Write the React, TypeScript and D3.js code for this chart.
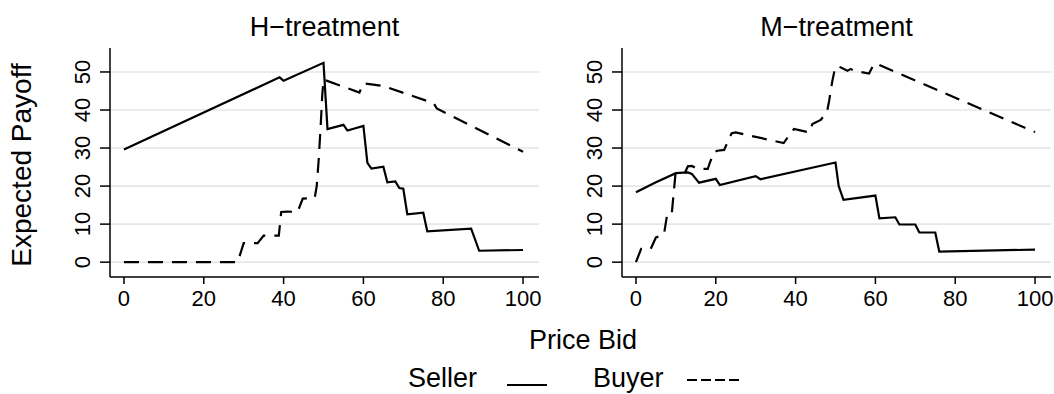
import React from "react";
import * as d3 from "d3";

// Expected payoff by price bid, H- and M-treatment
const priceTicks = [0, 20, 40, 60, 80, 100];
const payoffTicks = [0, 10, 20, 30, 40, 50];

const hSeller: [number, number][] = [
  [0, 29.6], [39, 48.6], [40, 47.7], [50, 52.4], [51, 35], [55, 36.1], [56, 34.6],
  [60, 35.8], [61, 26.1], [62, 24.6], [65, 25.1], [66, 21], [68, 21.2], [69, 19.5],
  [70, 19.3], [71, 12.6], [75, 13], [76, 8.1], [87, 8.8], [89, 3.0], [100, 3.2],
];

const hBuyer: [number, number][] = [
  [0, 0], [28.5, 0], [30, 5], [33.5, 5], [35, 7], [38.8, 7], [39.4, 13.2], [41, 13.3],
  [43.5, 13.2], [44.8, 16.7], [47.8, 16.9], [48.3, 20], [48.8, 27], [49.3, 36],
  [49.7, 44], [50, 48], [59, 44.6], [60, 47], [65, 46.3], [77.6, 41.8], [78.4, 40.4],
  [100, 29],
];

const mSeller: [number, number][] = [
  [0, 18.4], [5, 21], [10, 23.4], [13, 23.6], [14, 23.2], [15.8, 20.9], [20, 21.9],
  [21, 20.3], [30, 22.6], [31.2, 21.8], [50, 26.2], [50.8, 20], [52, 16.4], [60, 17.5],
  [61, 11.5], [65, 11.8], [66, 9.9], [70, 9.9], [71, 7.8], [75, 7.8], [76, 2.8],
  [100, 3.3],
];

const mBuyer: [number, number][] = [
  [0, 0], [1.3, 3.5], [3.7, 3.5], [5, 6.5], [7, 7.2], [7.9, 13.1], [9, 13.1],
  [9.9, 23.2], [12.2, 23.3], [13, 25.2], [14, 25.3], [15.5, 24.5], [18, 24.5],
  [18.4, 25.8], [19.5, 28.9], [20.4, 29.3], [22.1, 29.5], [23.3, 32.4], [24, 33.9],
  [25, 34.1], [37, 31.3], [38.3, 33.2], [39.6, 35], [40.9, 34.7], [43.4, 34.1],
  [44.2, 36.3], [46.3, 37.4], [47.9, 39.6], [48.4, 42.4], [49.2, 47.6], [49.9, 51.1],
  [50.5, 51.6], [53, 50.3], [53.8, 50.8], [54.6, 50.3], [58.4, 49.6], [59.6, 52],
  [60.2, 52.2], [100, 34.2],
];

const panels = [
  { title: "H\u2212treatment", seller: hSeller, buyer: hBuyer, x0: 110, x1: 539 },
  { title: "M\u2212treatment", seller: mSeller, buyer: mBuyer, x0: 622, x1: 1051 },
];

const FONT = "'Liberation Sans', Arial, Helvetica, sans-serif";
const W = 1054;
const H = 394;
const TOP = 48;
const BOTTOM = 277;
const DASH = "15,9";

const y = d3.scaleLinear().domain([-3.9, 56.3]).range([BOTTOM, TOP]);

function Panel({ p }: { p: (typeof panels)[number] }) {
  const x = d3.scaleLinear().domain([-3.5, 104]).range([p.x0, p.x1]);
  const line = d3
    .line<[number, number]>()
    .x((d) => x(d[0]))
    .y((d) => y(d[1]));
  return (
    <g>
      {payoffTicks.map((t) => (
        <line key={"g" + t} x1={p.x0} x2={p.x1} y1={y(t)} y2={y(t)} stroke="#e6e6e6" strokeWidth={1.6} />
      ))}
      <path d={line(p.buyer) || ""} fill="none" stroke="#000" strokeWidth={2.2} strokeDasharray={DASH} />
      <path d={line(p.seller) || ""} fill="none" stroke="#000" strokeWidth={2.2} strokeLinejoin="miter" />
      <line x1={p.x0} x2={p.x0} y1={TOP} y2={BOTTOM} stroke="#000" strokeWidth={1.5} />
      <line x1={p.x0} x2={p.x1} y1={BOTTOM} y2={BOTTOM} stroke="#000" strokeWidth={1.5} />
      {payoffTicks.map((t) => (
        <g key={"y" + t}>
          <line x1={p.x0 - 10} x2={p.x0} y1={y(t)} y2={y(t)} stroke="#000" strokeWidth={1.5} />
          <text
            transform={`translate(${p.x0 - 20},${y(t)}) rotate(-90)`}
            textAnchor="middle"
            fontSize={22}
            fontFamily={FONT}
          >
            {t}
          </text>
        </g>
      ))}
      {priceTicks.map((t) => (
        <g key={"x" + t}>
          <line x1={x(t)} x2={x(t)} y1={BOTTOM} y2={BOTTOM + 7} stroke="#000" strokeWidth={1.5} />
          <text x={x(t)} y={306} textAnchor="middle" fontSize={22} fontFamily={FONT}>
            {t}
          </text>
        </g>
      ))}
      <text x={(p.x0 + p.x1) / 2} y={36} textAnchor="middle" fontSize={27} fontFamily={FONT}>
        {p.title}
      </text>
    </g>
  );
}

export default function App() {
  return (
    <svg
      width={W}
      height={H}
      style={{ position: "absolute", left: 0, top: 0, background: "#fff" }}
    >
      <rect width={W} height={H} fill="#fff" />
      {panels.map((p) => (
        <Panel key={p.title} p={p} />
      ))}
      <text
        transform={`translate(31,165) rotate(-90)`}
        textAnchor="middle"
        fontSize={28}
        fontFamily={FONT}
      >
        Expected Payoff
      </text>
      <text x={583} y={349} textAnchor="middle" fontSize={27} fontFamily={FONT}>
        Price Bid
      </text>
      <text x={408} y={387} fontSize={27} fontFamily={FONT}>
        Seller
      </text>
      <line x1={507} x2={547} y1={385} y2={385} stroke="#000" strokeWidth={2} />
      <text x={593} y={387} fontSize={27} fontFamily={FONT}>
        Buyer
      </text>
      <line x1={687} x2={742} y1={380} y2={380} stroke="#000" strokeWidth={2} strokeDasharray="10,4" />
    </svg>
  );
}
